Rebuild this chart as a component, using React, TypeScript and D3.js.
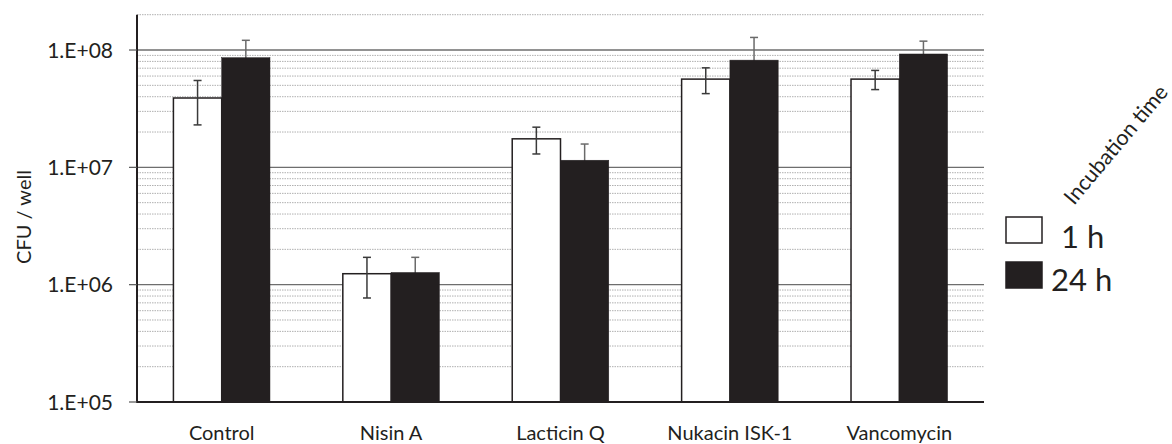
import { useEffect, useRef } from "react";
import * as d3 from "d3";

// chart values
const categories = ["Control", "Nisin A", "Lacticin Q", "Nukacin ISK-1", "Vancomycin"];
const series = ["1 h", "24 h"];
const values1h = [3.9e7, 1.24e6, 1.75e7, 5.65e7, 5.65e7];
const errors1h = [1.6e7, 4.7e5, 4.5e6, 1.4e7, 1.05e7];
const values24h = [8.6e7, 1.27e6, 1.15e7, 8.2e7, 9.25e7];
const errors24h = [3.5e7, 4.4e5, 4.3e6, 4.6e7, 2.65e7];
const yTicks = [1e5, 1e6, 1e7, 1e8];
const yTickLabels = ["1.E+05", "1.E+06", "1.E+07", "1.E+08"];
const yDomain = [1e5, 2e8];

export default function App() {
    const svgWidth = 1172;
    const svgHeight = 444;
    const marginLeft = 137;
    const plotRight = 984;
    const plotTop = 14.7;
    const plotBottom = 402;

    const ref = useRef(null);

    useEffect(() => {
        const svg = d3.select(ref.current);
        svg.selectAll("*").remove();
        const font = "Lato, 'Open Sans', sans-serif";
        const ink = "#231f20";

        const yScale = d3.scaleLog().domain(yDomain).range([plotBottom, plotTop]);
        const xScale = d3.scaleBand().domain(categories).range([marginLeft, plotRight])
            .paddingInner(0.43).paddingOuter(0.215);
        const subScale = d3.scaleBand().domain(series).range([0, xScale.bandwidth()]);

        // minor grid (dotted)
        const minor = [];
        for (let e = 5; e <= 8; e++) {
            for (let m = 2; m <= 9; m++) {
                const v = m * Math.pow(10, e);
                if (v <= yDomain[1]) minor.push(v);
            }
        }
        svg.append("g").selectAll("line").data(minor).join("line")
            .attr("x1", marginLeft).attr("x2", plotRight)
            .attr("y1", d => yScale(d)).attr("y2", d => yScale(d))
            .attr("stroke", "#b0b0b0").attr("stroke-width", 1)
            .attr("stroke-dasharray", "1.5,1");

        // major grid
        svg.append("g").selectAll("line").data(yTicks.slice(1)).join("line")
            .attr("x1", marginLeft).attr("x2", plotRight)
            .attr("y1", d => yScale(d)).attr("y2", d => yScale(d))
            .attr("stroke", "#6e6e6e").attr("stroke-width", 1.4);

        const rows = categories.map((c, i) => ({
            c,
            items: [
                { s: series[0], v: values1h[i], e: errors1h[i] },
                { s: series[1], v: values24h[i], e: errors24h[i] },
            ],
        }));

        const drawErrors = (layer, which) => {
            const err = layer.selectAll("g.err").data(rows).join("g")
                .attr("class", "err")
                .attr("transform", d => `translate(${xScale(d.c) + subScale(series[which]) + subScale.bandwidth() / 2},0)`);
            const color = which === 0 ? "#3a3a3a" : "#6a6a6a";
            const hi = d => yScale(d.items[which].v + d.items[which].e);
            const lo = d => yScale(d.items[which].v - d.items[which].e);
            err.append("line").attr("y1", lo).attr("y2", hi)
                .attr("stroke", color).attr("stroke-width", 1.5);
            err.append("line").attr("x1", -4).attr("x2", 4).attr("y1", hi).attr("y2", hi)
                .attr("stroke", color).attr("stroke-width", 1.5);
            err.append("line").attr("x1", -4).attr("x2", 4).attr("y1", lo).attr("y2", lo)
                .attr("stroke", color).attr("stroke-width", 1.5);
        };

        // 24 h error bars sit behind their black bars
        drawErrors(svg.append("g"), 1);

        // bars
        const groups = svg.append("g").selectAll("g").data(rows).join("g")
            .attr("transform", d => `translate(${xScale(d.c)},0)`);

        groups.selectAll("rect").data(d => d.items).join("rect")
            .attr("x", d => subScale(d.s))
            .attr("y", d => yScale(d.v))
            .attr("width", subScale.bandwidth())
            .attr("height", d => plotBottom - yScale(d.v))
            .attr("fill", d => (d.s === series[0] ? "#ffffff" : ink))
            .attr("stroke", ink)
            .attr("stroke-width", d => (d.s === series[0] ? 1.5 : 0.5));

        drawErrors(svg.append("g"), 0);

        // axes
        svg.append("line")
            .attr("x1", marginLeft).attr("x2", marginLeft)
            .attr("y1", plotTop).attr("y2", plotBottom + 1)
            .attr("stroke", ink).attr("stroke-width", 2);
        svg.append("line")
            .attr("x1", marginLeft - 1).attr("x2", plotRight)
            .attr("y1", plotBottom).attr("y2", plotBottom)
            .attr("stroke", ink).attr("stroke-width", 2);

        const yAxis = svg.append("g");
        yAxis.selectAll("line").data(yTicks).join("line")
            .attr("x1", marginLeft - 8).attr("x2", marginLeft)
            .attr("y1", d => yScale(d)).attr("y2", d => yScale(d))
            .attr("stroke", "#555").attr("stroke-width", 1.2);
        yAxis.selectAll("text").data(yTicks).join("text")
            .attr("x", 113)
            .attr("y", d => yScale(d))
            .attr("dy", "0.36em")
            .attr("text-anchor", "end")
            .attr("font-family", font)
            .attr("font-size", 21)
            .attr("fill", ink)
            .text((d, i) => yTickLabels[i]);

        svg.append("text")
            .attr("transform", `translate(31, 217) rotate(-90)`)
            .attr("text-anchor", "middle")
            .attr("font-family", font)
            .attr("font-size", 20)
            .attr("fill", ink)
            .text("CFU / well");

        svg.append("g").selectAll("text").data(categories).join("text")
            .attr("x", d => xScale(d) + xScale.bandwidth() / 2)
            .attr("y", 440)
            .attr("text-anchor", "middle")
            .attr("font-family", font)
            .attr("font-size", 20)
            .attr("fill", ink)
            .text(d => d);

        // legend
        const legend = svg.append("g");
        legend.append("text")
            .attr("transform", "translate(1074, 206) rotate(-50)")
            .attr("font-family", font)
            .attr("font-size", 21.5)
            .attr("fill", ink)
            .text("Incubation time");
        const legendY = [217, 262];
        const legendTextX = [1061, 1051];
        const legendBase = [248, 291];
        series.forEach((s, i) => {
            legend.append("rect")
                .attr("x", 1006).attr("y", legendY[i])
                .attr("width", 36).attr("height", 26)
                .attr("fill", i === 0 ? "#ffffff" : ink)
                .attr("stroke", ink).attr("stroke-width", 1.5);
            legend.append("text")
                .attr("x", legendTextX[i]).attr("y", legendBase[i])
                .attr("font-family", font)
                .attr("font-size", 31)
                .attr("fill", ink)
                .text(s);
        });
    }, []);

    return (
        <svg
            ref={ref}
            width={svgWidth}
            height={svgHeight}
            style={{ position: "absolute", left: 0, top: 0, background: "#fff" }}
        ></svg>
    );
}
